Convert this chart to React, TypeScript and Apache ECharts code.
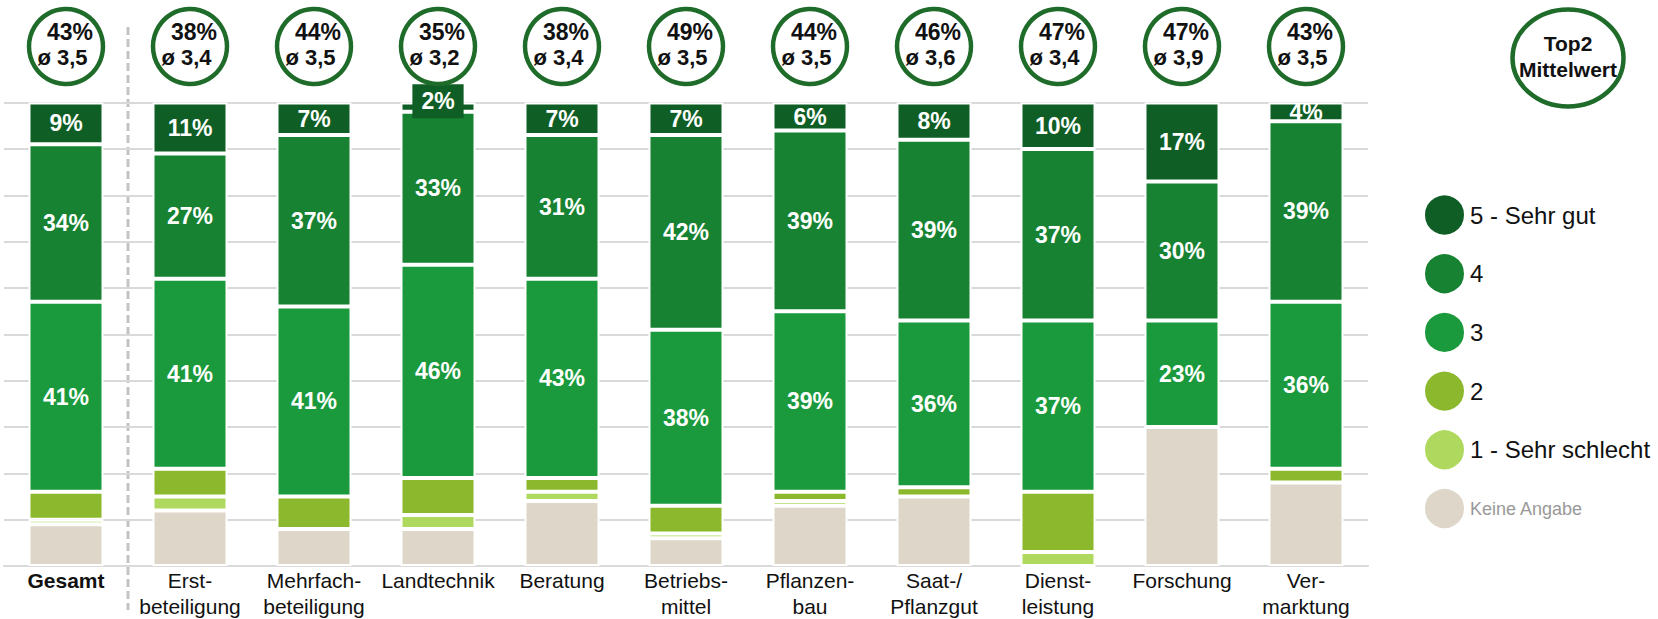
import React, { useEffect, useRef } from "react";
import * as echarts from "echarts";

const categories = [
  "Gesamt",
  "Erst-\nbeteiligung",
  "Mehrfach-\nbeteiligung",
  "Landtechnik",
  "Beratung",
  "Betriebs-\nmittel",
  "Pflanzen-\nbau",
  "Saat-/\nPflanzgut",
  "Dienst-\nleistung",
  "Forschung",
  "Ver-\nmarktung",
];

const keineAngabe = [9, 12, 8, 8, 14, 6, 13, 15, 0, 30, 18];
const sehrSchlecht = [1, 3, 0, 3, 2, 1, 1, 0, 3, 0, 0];
const zwei = [6, 6, 7, 8, 3, 6, 2, 2, 13, 0, 3];
const drei = [41, 41, 41, 46, 43, 38, 39, 36, 37, 23, 36];
const vier = [34, 27, 37, 33, 31, 42, 39, 39, 37, 30, 39];
const sehrGut = [9, 11, 7, 2, 7, 7, 6, 8, 10, 17, 4];

const top2 = [43, 38, 44, 35, 38, 49, 44, 46, 47, 47, 43];
const mittelwert = [3.5, 3.4, 3.5, 3.2, 3.4, 3.5, 3.5, 3.6, 3.4, 3.9, 3.5];

const seriesNames = ["Keine Angabe", "1 - Sehr schlecht", "2", "3", "4", "5 - Sehr gut"];
const legendOrder = ["5 - Sehr gut", "4", "3", "2", "1 - Sehr schlecht", "Keine Angabe"];

const FONT = "'Liberation Sans', Arial, sans-serif";
const C5 = "#0f5e25";
const COLORS = ["#ddd6c9", "#aed95e", "#8bb82d", "#1a9a3c", "#168232", C5];

export default function App() {
  const ref = useRef<HTMLDivElement>(null);

  useEffect(() => {
    document.body.style.margin = "0";
    if (!ref.current) return;
    const chart = echarts.init(ref.current, null, { renderer: "svg" });

    const values = [keineAngabe, sehrSchlecht, zwei, drei, vier, sehrGut];
    const gridLeft = 4;
    const gridWidth = 1364;

    const barSeries = values.map((arr, si) => ({
      name: seriesNames[si],
      type: "bar",
      stack: "total",
      barWidth: 75,
      xAxisIndex: 0,
      yAxisIndex: 0,
      itemStyle: { color: COLORS[si], borderColor: "#ffffff", borderWidth: 2 },
      emphasis: { disabled: true },
      label: {
        show: si >= 3,
        position: "inside",
        color: "#ffffff",
        fontFamily: FONT,
        fontWeight: "bold",
        fontSize: 23,
        formatter: (p: any) => (p.value > 0 ? `${p.value}%` : ""),
      },
      data: arr.map((v) =>
        si === 5 && v < 3
          ? {
              value: v,
              label: { backgroundColor: C5, padding: [6, 9, 5, 9], offset: [0, -6] },
            }
          : v
      ),
    }));

    const option: any = {
      animation: false,
      textStyle: { fontFamily: FONT },
      grid: [
        { left: gridLeft, width: gridWidth, top: 102.6, bottom: 50.5 },
        { left: gridLeft, width: gridWidth, top: 0, height: 93 },
      ],
      legend: {
        orient: "vertical",
        left: 1418,
        top: 188.5,
        icon: "circle",
        itemWidth: 41,
        itemHeight: 41,
        itemGap: 15.7,
        selectedMode: false,
        textStyle: { fontFamily: FONT, fontSize: 24, color: "#111111" },
        data: legendOrder.map((n) =>
          n === "Keine Angabe"
            ? { name: n, textStyle: { fontSize: 18, color: "#999999" } }
            : { name: n }
        ),
      },
      xAxis: [
        {
          type: "category",
          gridIndex: 0,
          data: categories,
          axisTick: { show: false },
          axisLine: { lineStyle: { color: "#d9d9d9", width: 2 } },
          axisLabel: {
            interval: 0,
            margin: 1,
            fontFamily: FONT,
            fontSize: 21,
            lineHeight: 26,
            color: "#111111",
            formatter: (v: string, i: number) => (i === 0 ? `{b|${v}}` : v),
            rich: {
              b: { fontFamily: FONT, fontSize: 21, fontWeight: "bold", color: "#111111", lineHeight: 26 },
            },
          },
        },
        {
          type: "category",
          gridIndex: 1,
          data: categories,
          show: false,
        },
      ],
      yAxis: [
        {
          type: "value",
          gridIndex: 0,
          min: 0,
          max: 100,
          interval: 10,
          axisLabel: { show: false },
          axisLine: { show: false },
          axisTick: { show: false },
          splitLine: { lineStyle: { color: "#d9d9d9", width: 2 } },
        },
        {
          type: "value",
          gridIndex: 1,
          min: 0,
          max: 1,
          show: false,
        },
      ],
      series: [
        ...barSeries,
        {
          type: "scatter",
          xAxisIndex: 1,
          yAxisIndex: 1,
          symbol: "circle",
          symbolSize: [74, 75],
          clip: false,
          itemStyle: { color: "#ffffff", borderColor: "#1e6b2a", borderWidth: 4.5, opacity: 1 },
          emphasis: { disabled: true },
          label: {
            show: true,
            position: "inside",
            offset: [0, -2],
            formatter: (p: any) =>
              `{a|${top2[p.dataIndex]}%}\n{b|ø ${mittelwert[p.dataIndex]
                .toFixed(1)
                .replace(".", ",")}}`,
            rich: {
              a: {
                fontFamily: FONT,
                fontWeight: "bold",
                fontSize: 23,
                color: "#111111",
                lineHeight: 26,
                padding: [0, 0, 0, 8],
              },
              b: {
                fontFamily: FONT,
                fontWeight: "bold",
                fontSize: 22,
                color: "#111111",
                lineHeight: 26,
                padding: [0, 7, 0, 0],
              },
            },
          },
          data: categories.map((c, i) => [i, 0.5]),
        },
      ],
      graphic: [
        {
          type: "ellipse",
          shape: { cx: 1568, cy: 58, rx: 55.5, ry: 48.5 },
          style: { fill: "#ffffff", stroke: "#1e6b2a", lineWidth: 4.5 },
        },
        {
          type: "text",
          x: 1568,
          y: 56,
          style: {
            text: "Top2\nMittelwert",
            fontFamily: FONT,
            fontWeight: "bold",
            fontSize: 21,
            lineHeight: 26,
            fill: "#111111",
            align: "center",
            verticalAlign: "middle",
          },
        },
      ],
    };

    chart.setOption(option);

    const x0 = chart.convertToPixel({ xAxisIndex: 0 }, 0) as number;
    const x1 = chart.convertToPixel({ xAxisIndex: 0 }, 1) as number;
    const sepX = (x0 + x1) / 2;
    chart.setOption({
      graphic: [
        ...option.graphic,
        {
          type: "line",
          shape: { x1: sepX, y1: 27, x2: sepX, y2: 610 },
          style: { stroke: "#c4c4c4", lineWidth: 3, lineDash: [8, 4] },
        },
      ],
    });

    return () => chart.dispose();
  }, []);

  return <div ref={ref} style={{ width: 1658, height: 619 }} />;
}
